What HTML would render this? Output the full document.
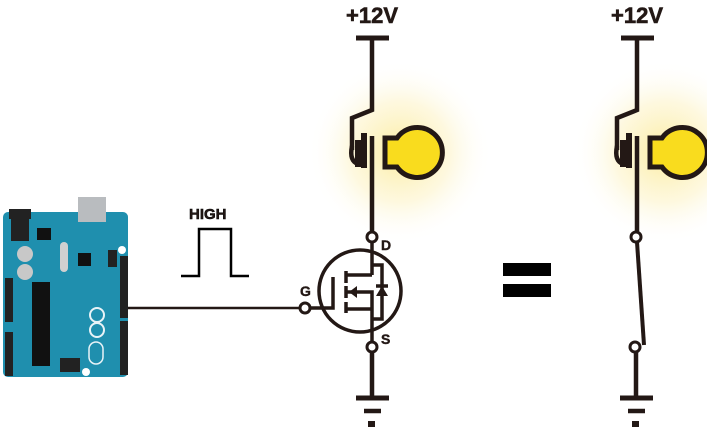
<!DOCTYPE html>
<html><head><meta charset="utf-8"><style>
html,body{margin:0;padding:0;background:#fff;}
svg{display:block;}
text{font-family:"Liberation Sans",sans-serif;font-weight:bold;fill:#231815;}
</style></head><body>
<svg width="707" height="431" viewBox="0 0 707 431" xmlns="http://www.w3.org/2000/svg">
<defs>
<radialGradient id="glow" cx="0.5" cy="0.5" r="0.5">
<stop offset="0" stop-color="#fbe680" stop-opacity="0.75"/>
<stop offset="0.55" stop-color="#fcf0b8" stop-opacity="0.45"/>
<stop offset="1" stop-color="#fff" stop-opacity="0"/>
</radialGradient>
<g id="lamp">
<circle cx="400" cy="152" r="92" fill="url(#glow)"/>
<polyline points="372,38 372,110 352,118 352,150" fill="none" stroke="#231815" stroke-width="4.5"/>
<path d="M352,146 Q349,161 358,164" fill="none" stroke="#231815" stroke-width="4.5"/>
<rect x="355" y="140" width="6" height="27" fill="#231815"/>
<rect x="361" y="133" width="6" height="35" fill="#231815"/>
<line x1="372" y1="136" x2="372" y2="168" stroke="#231815" stroke-width="4.5"/>
<path d="M385,138 L397,138 A25,25 0 1 1 397,167 L385,167 Z" fill="#f9dc1e" stroke="#231815" stroke-width="5"/>
<line x1="356" y1="38" x2="389" y2="38" stroke="#231815" stroke-width="5"/>
<text x="372" y="23" font-size="22" text-anchor="middle" stroke="#231815" stroke-width="0.6">+12V</text>
</g>
<g id="gnd">
<line x1="356" y1="398" x2="389" y2="398" stroke="#231815" stroke-width="5"/>
<line x1="364" y1="411" x2="381" y2="411" stroke="#231815" stroke-width="4.5"/>
<rect x="368" y="421" width="7" height="6" fill="#231815"/>
</g>
</defs>

<use href="#lamp"/>
<line x1="372" y1="168" x2="372" y2="232" stroke="#231815" stroke-width="4.5"/>
<circle cx="372" cy="237" r="5" fill="#fff" stroke="#231815" stroke-width="3"/>
<text x="381" y="250" font-size="14" stroke="#231815" stroke-width="0.4">D</text>
<circle cx="360" cy="291" r="41" fill="none" stroke="#231815" stroke-width="3.5"/>
<g stroke="#231815" stroke-width="3.5" fill="none">
<line x1="372" y1="242" x2="372" y2="275"/>
<polyline points="346,275 372,275"/>
<polyline points="346,292 372,292 372,342"/>
<polyline points="346,309 372,309"/>
<polyline points="372,265 382,265 382,319 372,319"/>
<line x1="346" y1="271" x2="346" y2="283"/>
<line x1="346" y1="286" x2="346" y2="298"/>
<line x1="346" y1="302" x2="346" y2="313"/>
<polyline points="333,277 333,308 310,308"/>
<line x1="376" y1="286" x2="388" y2="286"/>
<line x1="125" y1="308" x2="300" y2="308" stroke-width="2.5"/>
</g>
<polygon points="349,292 357,286 357,298" fill="#231815"/>
<polygon points="382,286 376,296 388,296" fill="#231815"/>
<circle cx="305" cy="308" r="5" fill="#fff" stroke="#231815" stroke-width="3"/>
<text x="300" y="296" font-size="14" stroke="#231815" stroke-width="0.4">G</text>
<circle cx="372" cy="347" r="5" fill="#fff" stroke="#231815" stroke-width="3"/>
<text x="381" y="344" font-size="14" stroke="#231815" stroke-width="0.4">S</text>
<line x1="372" y1="352" x2="372" y2="398" stroke="#231815" stroke-width="4.5"/>
<use href="#gnd"/>

<use href="#lamp" transform="translate(265,0)"/>
<line x1="637" y1="168" x2="637" y2="232" stroke="#231815" stroke-width="4.5"/>
<circle cx="636" cy="237" r="5" fill="#fff" stroke="#231815" stroke-width="3"/>
<line x1="637" y1="242" x2="644" y2="345" stroke="#231815" stroke-width="4"/>
<circle cx="635" cy="347" r="5" fill="#fff" stroke="#231815" stroke-width="3"/>
<line x1="636" y1="352" x2="636" y2="398" stroke="#231815" stroke-width="4.5"/>
<use href="#gnd" transform="translate(264,0)"/>

<rect x="503" y="263" width="48" height="13" fill="#000"/>
<rect x="503" y="284" width="48" height="13" fill="#000"/>

<text x="189" y="219" font-size="15" fill="#000" stroke="#000" stroke-width="0.5">HIGH</text>
<polyline points="181,276 199,276 199,229 231,229 231,276 249,276" fill="none" stroke="#000" stroke-width="2.5"/>

<rect x="3" y="212" width="125" height="165" rx="5" fill="#1f8fae"/>
<rect x="78" y="197" width="28" height="25" fill="#b9bcbf"/>
<rect x="9" y="209" width="22" height="10" fill="#222"/>
<rect x="11" y="219" width="18" height="22" fill="#222"/>
<circle cx="25" cy="254" r="8" fill="#c8c8c8"/>
<circle cx="25" cy="272" r="8" fill="#c8c8c8"/>
<rect x="5" y="278" width="8" height="44" fill="#222"/>
<rect x="5" y="332" width="8" height="44" fill="#222"/>
<rect x="120" y="256" width="8" height="62" fill="#222"/>
<rect x="120" y="321" width="8" height="54" fill="#222"/>
<rect x="32" y="282" width="18" height="84" fill="#111"/>
<rect x="108" y="250" width="9" height="17" fill="#222"/>
<rect x="60" y="358" width="20" height="14" fill="#222"/>
<rect x="60" y="242" width="8" height="30" rx="4" fill="#d0d0d0"/>
<rect x="37" y="228" width="14" height="12" fill="#111"/>
<rect x="78" y="253" width="13" height="13" fill="#111"/>
<circle cx="97" cy="315" r="7" fill="none" stroke="#e8f3f7" stroke-width="2"/>
<circle cx="97" cy="330" r="7" fill="none" stroke="#e8f3f7" stroke-width="2"/>
<rect x="89" y="342" width="14" height="22" rx="7" fill="none" stroke="#e8f3f7" stroke-width="1.5"/>
<circle cx="122" cy="250" r="4" fill="#fff"/>
<circle cx="86" cy="372" r="4" fill="#fff"/>
</svg>
</body></html>
